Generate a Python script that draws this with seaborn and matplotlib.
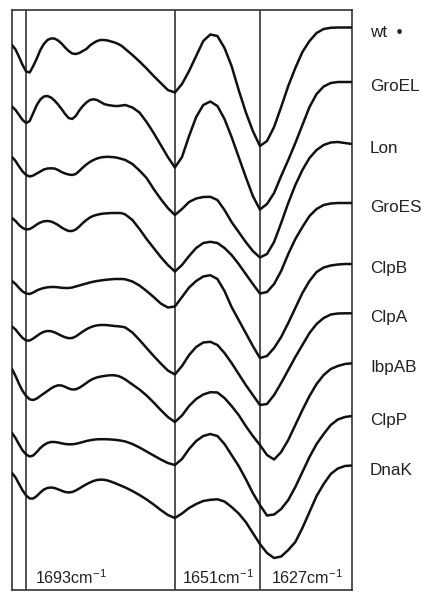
import matplotlib
matplotlib.use("Agg")
import matplotlib.pyplot as plt
import pandas as pd
import seaborn as sns

# Wavenumber grid (cm-1) shared by all second-derivative traces
wavenumber = [1697, 1696, 1695, 1694, 1693, 1692, 1691, 1690, 1689, 1688, 1687,
              1686, 1685, 1684, 1683, 1682, 1681, 1680, 1679, 1678, 1677, 1676,
              1675, 1674, 1673, 1672, 1671, 1670, 1669, 1668, 1667, 1666, 1665,
              1663, 1661, 1659, 1657, 1655, 1653, 1651, 1649, 1647, 1645, 1643,
              1641, 1639, 1637, 1635, 1633, 1631, 1629, 1627, 1625, 1623, 1621,
              1619, 1617, 1615, 1613, 1611, 1609, 1607, 1605, 1603, 1601]

# Stacked second-derivative amide I traces (arbitrary units, increasing downward)
wt = [45, 49.5, 57, 65, 71.5, 72.5, 66, 58.5, 50, 44, 40, 38.5, 38.5, 40.5,
      43.5, 47.5, 51, 53.5, 54, 53, 51, 49, 45.5, 43, 41, 40, 40, 40.5, 41.5,
      42.5, 44, 46, 49, 55, 61.5, 68.5, 76, 83, 90, 92.5, 84, 71, 56, 41, 34.5,
      36, 48, 66, 90, 112, 131, 146, 141, 127, 107, 86, 68, 52, 41, 33, 29,
      27.8, 27.5, 27.5, 27.5]
groel = [106.5, 110, 115, 120, 123, 121, 113, 105, 99.5, 96.5, 96, 97.5, 100.5,
         104.5, 109, 114, 118, 119, 116, 110.5, 106, 102.5, 100, 99.3, 100, 102,
         104, 105, 105.5, 106, 106, 105.5, 105, 107.5, 112.5, 122, 133, 145, 157,
         167.5, 157, 136, 117, 105, 101.5, 106, 119, 137, 157, 177, 196, 209.5,
         204, 193, 176, 160, 143, 125, 107, 94, 86.5, 83, 82, 82, 82]
lon = [157, 161, 166.5, 171.5, 175, 176.5, 175.5, 173.5, 171.5, 169.5, 168.5,
       168.3, 168.5, 170, 172, 173.5, 174.5, 175, 174, 171, 167.5, 164.5, 162,
       160, 158.5, 157.5, 157, 156.8, 157, 157.3, 158, 159, 160, 164, 170.5,
       178, 189, 199, 208, 215, 209, 202, 198.5, 197, 196.8, 200, 210, 222, 232,
       242, 251, 257.5, 254, 242, 223, 203, 185, 170, 158, 150, 145, 142.5,
       142, 143, 144]
groes = [218, 221, 225, 228, 229.5, 229, 227, 224.5, 222.5, 221.3, 221, 221.5,
         223, 225, 227.5, 229.5, 231, 231, 229.5, 226.5, 223, 220, 217.5, 215.8,
         214.8, 214, 213.5, 213.3, 213, 213, 213, 213.2, 214.5, 220, 229, 239,
         248, 257, 265, 271.5, 265, 256, 248, 243, 241.8, 243, 248, 255, 264, 274,
         284, 293.5, 292, 284, 271, 254, 239, 227, 216, 209, 205, 203.5, 203,
         203, 203]
clpb = [281, 284, 288, 291.5, 293.5, 294, 292.5, 290.5, 289, 288, 287.3, 287,
        287, 287.3, 287.8, 288, 288, 287.5, 286.5, 285.5, 284.5, 283.5, 282.5,
        281.7, 281, 280.5, 280, 279.6, 279.3, 279, 279, 279, 279.3, 281.5, 285.5,
        291, 297, 303.5, 307.5, 306.5, 297, 287.5, 281, 276.5, 275.2, 279, 291,
        307, 320, 333, 346, 358, 356, 348, 337, 323, 308, 293, 281, 272, 267.5,
        265.5, 264.5, 264, 264]
clpa = [326.5, 329.5, 334, 338, 340.5, 340.5, 338.5, 336, 333.5, 331.8, 331,
        331.2, 332.3, 334, 335.8, 337.3, 338.2, 338, 336.5, 334, 331.5, 329.3,
        327.5, 326.2, 325.4, 325, 325, 325.2, 325.6, 326, 326.3, 326.7, 327.5,
        332.5, 340, 348, 356, 363.5, 370.5, 374.5, 366, 355, 347, 342.5, 341.8,
        345, 353, 363, 374, 385, 395, 405, 404, 395, 383, 370, 357, 345, 333,
        324, 318, 314.5, 313.5, 313.3, 313.3]
ibpab = [369, 376, 384, 391, 396, 399.3, 400, 398.5, 396, 393.5, 391, 388.5,
         386.5, 385.3, 385.5, 386.8, 388.5, 389.5, 389.3, 387.8, 385.5, 383,
         380.5, 378.7, 377.4, 376.6, 376, 375.5, 375.2, 375.3, 376, 377.5, 379.5,
         384.5, 389.5, 395.5, 402.5, 410, 417, 422, 415.5, 406, 399, 394.5,
         392.2, 392.5, 398, 406, 415, 426, 436, 445, 455, 459.5, 452, 440, 425,
         410, 396, 384, 375, 369, 366, 364, 363.3]
clpp = [433, 438, 444.5, 450.5, 454.5, 456.5, 455.5, 452, 448, 445, 443, 442,
        442, 442.5, 443.3, 444, 444.3, 444.3, 443.8, 443, 442, 441, 440.3, 439.7,
        439.3, 439.2, 439.2, 439.3, 439.5, 439.8, 440.2, 440.8, 441.5, 444,
        447.5, 451.5, 455.5, 459.5, 463, 465, 459, 449, 441, 436, 434, 436, 444,
        455, 466, 479, 493, 505, 515.5, 514.5, 509, 500, 487, 472, 457, 444,
        434, 425, 419.5, 417, 416]
dnak = [473, 477.5, 484, 490.5, 495.5, 498.5, 498.5, 496, 492.5, 489.5, 488,
        487.5, 488, 489.3, 490.7, 492, 492.5, 492, 490.5, 488.5, 486.3, 484.3,
        482.5, 481, 480, 479.6, 479.8, 480.5, 481.7, 483, 484.5, 486, 487.5, 491,
        495, 499.5, 504.5, 510, 515, 518, 513.5, 508, 504, 501, 499.8, 499.3,
        501.5, 507, 513.5, 522, 533, 544, 553, 558, 556.5, 550, 542, 528, 512,
        496, 484, 474, 468.5, 466, 465.5]

samples = ["wt", "GroEL", "Lon", "GroES", "ClpB", "ClpA", "IbpAB", "ClpP", "DnaK"]
traces = [wt, groel, lon, groes, clpb, clpa, ibpab, clpp, dnak]
sample_labels = ["wt  \u2022", "GroEL", "Lon", "GroES", "ClpB", "ClpA", "IbpAB",
                 "ClpP", "DnaK"]

# Band positions marked on the spectra (cm-1)
bands = [1693, 1651, 1627]

df = pd.concat(
    [pd.DataFrame({"wavenumber": wavenumber, "signal": vals, "sample": name})
     for name, vals in zip(samples, traces)],
    ignore_index=True,
)

sns.set_style("white")
plt.rcParams["font.family"] = ["Liberation Sans", "DejaVu Sans"]
plt.rcParams["mathtext.fontset"] = "custom"
plt.rcParams["mathtext.rm"] = "Liberation Sans"

fig = plt.figure(figsize=(4.22, 5.92), dpi=100)
ax = fig.add_axes([12 / 422, 2 / 592, 340 / 422, 580 / 592])

sns.lineplot(data=df, x="wavenumber", y="signal", hue="sample",
             palette=["#111111"] * len(samples), estimator=None,
             legend=False, linewidth=1.8, ax=ax, zorder=3,
             solid_joinstyle="round", solid_capstyle="round")

for b in bands:
    ax.axvline(b, color="#333333", linewidth=1.2, zorder=2)

ax.set_xlim(1697, 1601)
ax.set_ylim(590, 10)
ax.set_xticks([])
ax.set_yticks([])
ax.set_xlabel("")
ax.set_ylabel("")
for s in ax.spines.values():
    s.set_color("#333333")
    s.set_linewidth(1.2)
    s.set_visible(True)

# Sample names at the right-hand end of each trace
for lab, vals in zip(sample_labels, traces):
    ax.annotate(lab, xy=(wavenumber[-1], vals[-1]), xycoords="data",
                xytext=(13, -6.5), textcoords="offset points",
                ha="left", va="baseline", fontsize=12.3, color="#222222",
                annotation_clip=False)

# Band labels along the bottom of the frame
band_dx = [6.5, 5, 8]
for b, dx in zip(bands, band_dx):
    ax.annotate(f"{b}cm$^{{\\mathregular{{-1}}}}$", xy=(b, 0),
                xycoords=("data", "axes fraction"), xytext=(dx, 4),
                textcoords="offset points", ha="left", va="baseline",
                fontsize=11.6, color="#222222")

fig.savefig("out.png", dpi=100)
